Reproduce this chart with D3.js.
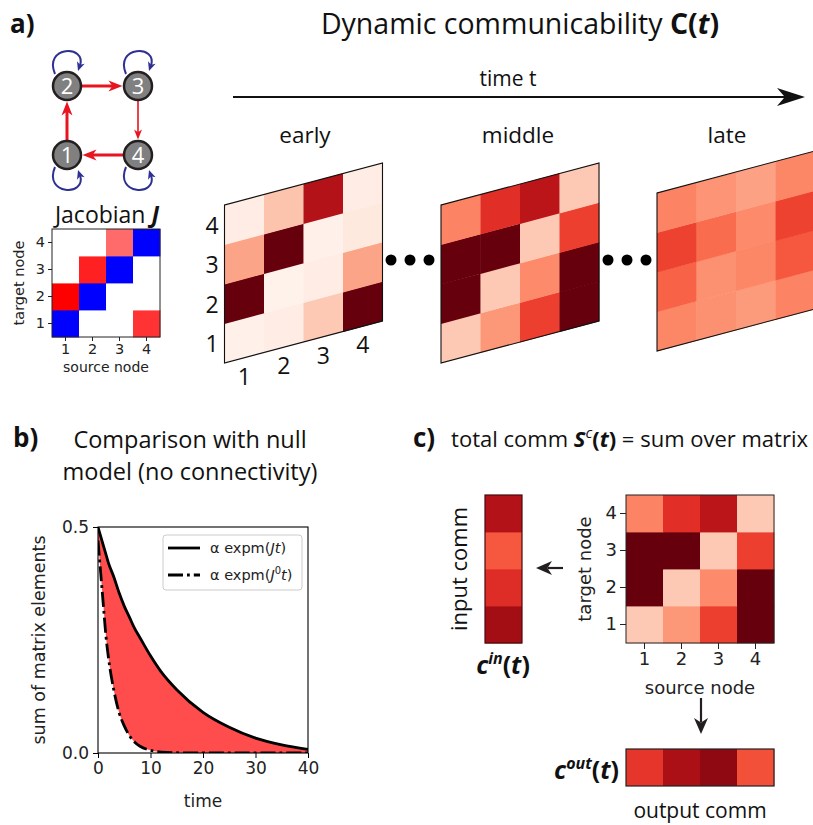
<!DOCTYPE html>
<html>
<head>
<meta charset="utf-8">
<script src="https://cdn.jsdelivr.net/npm/d3@7"></script>
<style>
  body { margin: 0; background: #fff; }
  svg { display: block; }
  .fig { font-family: "Open Sans", sans-serif; fill: #111; }
  .mpl { font-family: "DejaVu Sans", sans-serif; fill: #222; }
</style>
</head>
<body>
<svg id="fig" width="813" height="825"></svg>
<script>
// ---- data ----
const nodes = [1, 2, 3, 4];
const edges = [[1, 2], [2, 3], [3, 4], [4, 1]];          // source -> target
// rows = target node 1..4, columns = source node 1..4
const jacobian = [
  [-1, 0, 0, 0.8],
  [1.0, -1, 0, 0],
  [0, 0.87, -1, 0],
  [0, 0, 0.58, -1]
];
const commEarly = [
  [0.03, 0.05, 0.2, 1.0],
  [1.0, 0.02, 0.05, 0.32],
  [0.32, 1.0, 0.03, 0.07],
  [0.05, 0.22, 0.83, 0.05]
];
const commMiddle = [
  [0.2, 0.36, 0.62, 1.0],
  [1.0, 0.2, 0.4, 1.0],
  [1.0, 1.0, 0.2, 0.62],
  [0.42, 0.67, 0.8, 0.2]
];
const commLate = [
  [0.41, 0.38, 0.35, 0.42],
  [0.52, 0.38, 0.41, 0.55],
  [0.61, 0.49, 0.40, 0.61],
  [0.42, 0.37, 0.33, 0.41]
];
const commIn = [0.87, 0.68, 0.55, 0.83];     // per target node
const commOut = [0.65, 0.85, 0.92, 0.57];    // per source node
const stageLabels = ["early", "middle", "late"];

const timeSteps = [0, 0.5, 1, 1.5, 2, 3, 4, 5, 6, 7, 8, 10, 12, 15, 20, 25, 30, 35, 40];
const fullModel = [0.50, 0.48, 0.46, 0.44, 0.42, 0.39, 0.355, 0.325, 0.30, 0.275, 0.255, 0.215, 0.18, 0.14, 0.09, 0.057, 0.033, 0.018, 0.008];
const nullModel = [0.47, 0.40, 0.33, 0.26, 0.21, 0.14, 0.09, 0.06, 0.038, 0.024, 0.015, 0.006, 0.002, 0.0005, 0, 0, 0, 0, 0];
const timeTicks = [0, 10, 20, 30, 40];
const sumTicks = [0, 0.5];

// ---- setup ----
const svg = d3.select("#fig");
const reds = d3.interpolateReds;
const bwr = d3.scaleLinear().domain([-1, 0, 1]).range(["#0000ff", "#ffffff", "#ff0000"]);
const cellsOf = m => m.flatMap((row, i) => row.map((v, j) => ({ t: nodes[i], s: nodes[j], v })));

function arrowHead(g, tx, ty, ang, len, wid, fill) {
  g.append("path")
    .attr("d", `M0,0L${-len},${-wid / 2}L${-len * 0.72},0L${-len},${wid / 2}Z`)
    .attr("transform", `translate(${tx},${ty}) rotate(${ang})`)
    .attr("fill", fill);
}

function label(g, x, y, txt, size, opts = {}) {
  return g.append("text").attr("class", opts.cls || "fig")
    .attr("x", x).attr("y", y)
    .attr("text-anchor", opts.anchor || "middle")
    .attr("font-size", size)
    .attr("font-weight", opts.bold ? 700 : null)
    .text(txt);
}

// ---- panel a: network ----
const gNet = svg.append("g");
label(gNet, 10, 33, "a)", 26, { anchor: "start", bold: true });

const nodeGrid = { 1: [0, 1], 2: [0, 0], 3: [1, 0], 4: [1, 1] };
const colX = d3.scalePoint().domain([0, 1]).range([67, 138]);
const rowY = d3.scalePoint().domain([0, 1]).range([86, 155]);
const pos = n => [colX(nodeGrid[n][0]), rowY(nodeGrid[n][1])];
const nodeR = 14;
const edgeW = d3.scaleLinear().domain([0.58, 0.8]).range([1.6, 3]).clamp(true);

// self loops (negative diagonal)
nodes.forEach(n => {
  const [cx, cy] = pos(n);
  const dir = nodeGrid[n][1] === 0 ? -1 : 1;
  const p0 = [cx - 12, cy + dir * 12], c1 = [cx - 24, cy + dir * 40], c2 = [cx + 20, cy + dir * 42], p1 = [cx + 11, cy + dir * 15];
  gNet.append("path")
    .attr("d", `M${p0}C${c1} ${c2} ${p1[0] + 2},${p1[1] + dir * 5}`)
    .attr("fill", "none").attr("stroke", "#2e3192").attr("stroke-width", 2);
  const ang = Math.atan2(p1[1] - c2[1], p1[0] - c2[0]) * 180 / Math.PI;
  arrowHead(gNet, p1[0], p1[1], ang, 9, 8, "#2e3192");
});

edges.forEach(([s, t]) => {
  const [x1, y1] = pos(s), [x2, y2] = pos(t);
  const L = Math.hypot(x2 - x1, y2 - y1), ux = (x2 - x1) / L, uy = (y2 - y1) / L;
  const w = edgeW(jacobian[t - 1][s - 1]);
  const hl = w > 2 ? 14 : 10, hw = w > 2 ? 11 : 8;
  const tip = [x2 - ux * (nodeR + 1.5), y2 - uy * (nodeR + 1.5)];
  gNet.append("line")
    .attr("x1", x1 + ux * nodeR).attr("y1", y1 + uy * nodeR)
    .attr("x2", tip[0] - ux * hl * 0.6).attr("y2", tip[1] - uy * hl * 0.6)
    .attr("stroke", "#e8141f").attr("stroke-width", w);
  arrowHead(gNet, tip[0], tip[1], Math.atan2(uy, ux) * 180 / Math.PI, hl, hw, "#e8141f");
});

const nodeG = gNet.selectAll("g.node").data(nodes).join("g")
  .attr("transform", d => `translate(${pos(d)})`);
nodeG.append("circle").attr("r", nodeR).attr("fill", "#808080").attr("stroke", "#231f20").attr("stroke-width", 2.5);
nodeG.append("text").attr("class", "fig").attr("text-anchor", "middle").attr("dy", 8)
  .attr("font-size", 22).style("fill", "#fff").text(d => d);

// ---- Jacobian heatmap ----
function heatmap(g, matrix, x0, y0, size, color, fs, tick) {
  const x = d3.scaleBand().domain(nodes).range([x0, x0 + size]);
  const y = d3.scaleBand().domain(nodes.slice().reverse()).range([y0, y0 + size]);
  g.selectAll("rect.cell").data(cellsOf(matrix)).join("rect").attr("class", "cell")
    .attr("x", d => x(d.s)).attr("y", d => y(d.t))
    .attr("width", x.bandwidth() + 0.4).attr("height", y.bandwidth() + 0.4)
    .attr("fill", d => color(d.v));
  g.append("rect").attr("x", x0).attr("y", y0).attr("width", size).attr("height", size)
    .attr("fill", "none").attr("stroke", "#222").attr("stroke-width", 1);
  const ax = g.append("g").attr("transform", `translate(0,${y0 + size})`)
    .call(d3.axisBottom(x).tickSize(tick).tickPadding(3));
  const ay = g.append("g").attr("transform", `translate(${x0},0)`)
    .call(d3.axisLeft(y).tickSize(tick).tickPadding(3));
  [ax, ay].forEach(a => {
    a.select(".domain").remove();
    a.selectAll("line").attr("stroke", "#222");
    a.selectAll("text").attr("class", "mpl").attr("font-size", fs);
  });
  return { x, y };
}

const gJ = svg.append("g");
const jt = label(gJ, 107, 223, "Jacobian ", 23);
jt.append("tspan").attr("font-weight", 700).attr("font-style", "italic").text("J");
heatmap(gJ, jacobian, 52, 229, 108, bwr, 14.5, 4);
label(gJ, 106, 372, "source node", 14, { cls: "mpl" });
label(gJ, 0, 0, "target node", 14.5, { cls: "mpl" }).attr("transform", "translate(24,283) rotate(-90)");

// ---- dynamic communicability ----
const gT = svg.append("g");
const title = label(gT, 520, 34, "Dynamic communicability ", 28.5);
title.append("tspan").attr("font-weight", 700).text("C(");
title.append("tspan").attr("font-weight", 700).attr("font-style", "italic").text("t");
title.append("tspan").attr("font-weight", 700).text(")");
label(gT, 508, 86, "time t", 21);
gT.append("line").attr("x1", 233).attr("x2", 785).attr("y1", 97).attr("y2", 97)
  .attr("stroke", "#111").attr("stroke-width", 2);
arrowHead(gT, 805, 97, 0, 28, 18, "#111");

const skew = 0.266, mSize = 158;
const sx = d3.scaleBand().domain(nodes).range([0, mSize]);
const sy = d3.scaleBand().domain(nodes.slice().reverse()).range([0, mSize]);
function skewMatrix(matrix, x0, y0, name, nameX) {
  const g = svg.append("g").attr("transform", `matrix(1,${-skew},0,1,${x0},${y0})`);
  g.selectAll("rect").data(cellsOf(matrix)).join("rect")
    .attr("x", d => sx(d.s)).attr("y", d => sy(d.t))
    .attr("width", sx.bandwidth() + 0.4).attr("height", sy.bandwidth() + 0.4)
    .attr("fill", d => reds(d.v));
  g.append("rect").attr("width", mSize).attr("height", mSize)
    .attr("fill", "none").attr("stroke", "#111").attr("stroke-width", 1.1);
  label(svg, nameX, 143, name, 22.5);
}
skewMatrix(commEarly, 224.5, 205, stageLabels[0], 305);
skewMatrix(commMiddle, 441, 205, stageLabels[1], 518);
skewMatrix(commLate, 657, 193, stageLabels[2], 727);

// node labels on the early matrix
const gL = svg.append("g");
nodes.forEach(n => {
  label(gL, 212, 205 + sy(n) + sy.bandwidth() / 2 + 9, n, 23);
  const cx = sx(n) + sx.bandwidth() / 2;
  label(gL, 224.5 + cx, 205 + mSize - skew * cx + 27, n, 23);
});

// ellipsis dots
[391, 608].forEach(x => [0, 1, 2].forEach(i =>
  svg.append("circle").attr("cx", x + i * 19).attr("cy", 260).attr("r", 5.5).attr("fill", "#000")));

// ---- panel b ----
const gB = svg.append("g");
label(gB, 13, 447, "b)", 26, { anchor: "start", bold: true });
label(gB, 190, 448, "Comparison with null", 23.5);
label(gB, 190, 480, "model (no connectivity)", 23.5);

const bx = d3.scaleLinear().domain([0, 40]).range([98, 308]);
const by = d3.scaleLinear().domain([0, 0.5]).range([753, 527]);
svg.append("clipPath").attr("id", "clipB").append("rect")
  .attr("x", 98).attr("y", 527).attr("width", 210).attr("height", 226);
const plot = gB.append("g").attr("clip-path", "url(#clipB)");
const idx = d3.range(timeSteps.length);
plot.append("path").datum(idx)
  .attr("d", d3.area().curve(d3.curveMonotoneX)
    .x(i => bx(timeSteps[i])).y0(i => by(nullModel[i])).y1(i => by(fullModel[i])))
  .attr("fill", "#ff4d4d");
plot.append("path").datum(idx)
  .attr("d", d3.line().curve(d3.curveMonotoneX).x(i => bx(timeSteps[i])).y(i => by(fullModel[i])))
  .attr("fill", "none").attr("stroke", "#000").attr("stroke-width", 2.8);
plot.append("path").datum(idx)
  .attr("d", d3.line().curve(d3.curveMonotoneX).x(i => bx(timeSteps[i])).y(i => by(nullModel[i])))
  .attr("fill", "none").attr("stroke", "#000").attr("stroke-width", 2.8)
  .attr("stroke-dasharray", "15,4,2.8,4");

gB.append("rect").attr("x", 98).attr("y", 527).attr("width", 210).attr("height", 226)
  .attr("fill", "none").attr("stroke", "#000").attr("stroke-width", 1.1);
const axB = gB.append("g").attr("transform", "translate(0,753)")
  .call(d3.axisBottom(bx).tickValues(timeTicks).tickSize(5).tickPadding(4));
const ayB = gB.append("g").attr("transform", "translate(98,0)")
  .call(d3.axisLeft(by).tickValues(sumTicks).tickFormat(d3.format(".1f")).tickSize(5).tickPadding(4));
[axB, ayB].forEach(a => {
  a.select(".domain").remove();
  a.selectAll("text").attr("class", "mpl").attr("font-size", 17);
});
label(gB, 203, 807, "time", 17, { cls: "mpl" });
label(gB, 0, 0, "sum of matrix elements", 17.5, { cls: "mpl" }).attr("transform", "translate(45,640) rotate(-90)");

// legend
const lg = gB.append("g");
lg.append("rect").attr("x", 163).attr("y", 535).attr("width", 139).attr("height", 55).attr("rx", 3)
  .attr("fill", "#fff").attr("fill-opacity", 0.8).attr("stroke", "#ccc");
[0, 1].forEach(i => {
  const ly = 548 + i * 27;
  lg.append("line").attr("x1", 168).attr("x2", 200).attr("y1", ly).attr("y2", ly)
    .attr("stroke", "#000").attr("stroke-width", 2.8)
    .attr("stroke-dasharray", i ? "15,4,2.8,4" : null);
  const t = label(lg, 210, ly + 5, "\u03b1 expm(", 14.5, { anchor: "start", cls: "mpl" });
  t.append("tspan").attr("font-style", "italic").text("J");
  if (i) t.append("tspan").attr("font-size", 10).attr("dy", -6).text("0");
  t.append("tspan").attr("font-style", "italic").attr("dy", i ? 6 : 0).text("t");
  t.append("tspan").text(")");
});

// ---- panel c ----
const gC = svg.append("g");
label(gC, 413, 447, "c)", 26, { anchor: "start", bold: true });
const ct = label(gC, 808, 447, "total comm ", 22, { anchor: "end" });
ct.append("tspan").attr("font-weight", 700).attr("font-style", "italic").text("S");
ct.append("tspan").attr("font-style", "italic").attr("font-size", 15).attr("dy", -9).text("c");
ct.append("tspan").attr("font-weight", 700).attr("dy", 9).text("(");
ct.append("tspan").attr("font-weight", 700).attr("font-style", "italic").text("t");
ct.append("tspan").attr("font-weight", 700).text(")");
ct.append("tspan").text(" = sum over matrix");

const cm = heatmap(gC, commMiddle, 626, 495, 148, reds, 18, 6);
label(gC, 700, 694, "source node", 18, { cls: "mpl" });
label(gC, 0, 0, "target node", 18, { cls: "mpl" }).attr("transform", "translate(591,569) rotate(-90)");

// input communicability column
gC.selectAll("rect.cin").data(nodes).join("rect").attr("class", "cin")
  .attr("x", 485).attr("y", d => cm.y(d)).attr("width", 37).attr("height", cm.y.bandwidth() + 0.4)
  .attr("fill", d => reds(commIn[d - 1]));
gC.append("rect").attr("x", 485).attr("y", 495).attr("width", 37).attr("height", 148)
  .attr("fill", "none").attr("stroke", "#4a0a0a").attr("stroke-width", 1.2);
label(gC, 0, 0, "input comm", 22).attr("transform", "translate(467,569) rotate(-90)");
function commLabel(x, y, sup, anchor) {
  const t = label(gC, x, y, "", 25, { anchor, bold: true });
  t.append("tspan").attr("font-style", "italic").text("c");
  t.append("tspan").attr("font-style", "italic").attr("font-size", 16).attr("dy", -10).text(sup);
  t.append("tspan").attr("dy", 10).text("(");
  t.append("tspan").attr("font-style", "italic").text("t");
  t.append("tspan").text(")");
}
commLabel(503, 674, "in", "middle");
gC.append("line").attr("x1", 563).attr("x2", 548).attr("y1", 568).attr("y2", 568)
  .attr("stroke", "#231f20").attr("stroke-width", 2.2);
arrowHead(gC, 536, 568, 180, 16, 14, "#231f20");

// output communicability row
gC.selectAll("rect.cout").data(nodes).join("rect").attr("class", "cout")
  .attr("x", d => cm.x(d)).attr("y", 749).attr("width", cm.x.bandwidth() + 0.4).attr("height", 37)
  .attr("fill", d => reds(commOut[d - 1]));
gC.append("rect").attr("x", 626).attr("y", 749).attr("width", 148).attr("height", 37)
  .attr("fill", "none").attr("stroke", "#222").attr("stroke-width", 1.2);
commLabel(619, 779, "out", "end");
label(gC, 700, 818, "output comm", 21);
gC.append("line").attr("x1", 701).attr("x2", 701).attr("y1", 698).attr("y2", 722)
  .attr("stroke", "#231f20").attr("stroke-width", 2.2);
arrowHead(gC, 701, 734, 90, 16, 14, "#231f20");
</script>
</body>
</html>
